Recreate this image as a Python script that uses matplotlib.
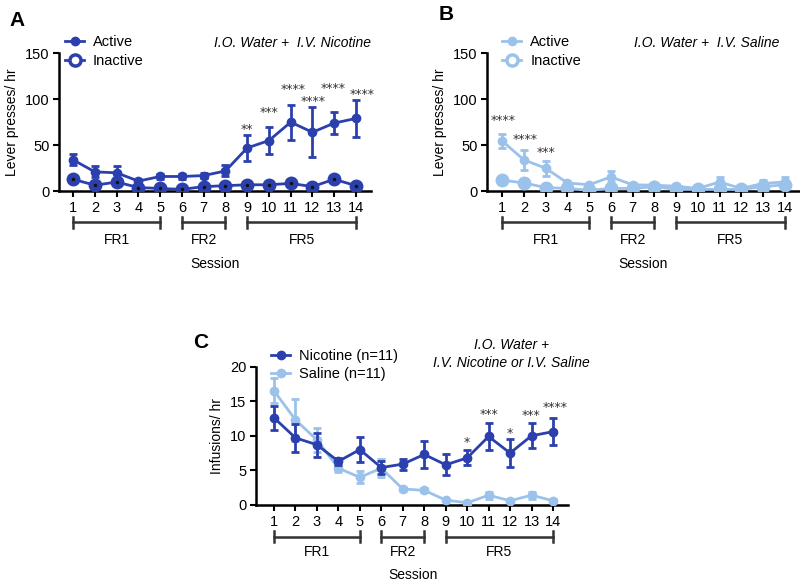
import numpy as np
import matplotlib
matplotlib.use("Agg")
from matplotlib import pyplot as plt
from matplotlib import transforms
from matplotlib.lines import Line2D

sessions = list(range(1, 15))

# panel A - I.O. water + I.V. nicotine
a_active = [34, 21, 20, 11, 16, 16, 17, 22, 47, 55, 75, 64, 74, 79]
a_active_err = [6, 6, 7, 2, 3, 3, 3, 6, 14, 15, 19, 27, 12, 20]
a_inactive = [13, 6.5, 10, 4, 3, 2, 5, 6, 7, 7, 8.5, 5, 13, 6]
a_inactive_err = [3, 2, 3, 1, 1, 1, 1, 1, 1, 1, 1, 1, 3, 1]
a_star_x = [9, 10, 11.1, 12.05, 12.95, 14.3]
a_star_txt = ["**", "***", "****", "****", "****", "****"]
a_star_y = [67, 85, 110, 97, 111, 105]

# panel B - I.O. water + I.V. saline
b_active = [54.5, 34, 25, 9, 7, 15.5, 7, 6.5, 5.5, 3, 10, 3, 8.5, 10]
b_active_err = [8, 11, 8, 2, 2, 6, 2, 2, 2, 1, 5, 1, 4, 5]
b_inactive = [12, 9, 4, 3, 1, 3, 3, 5, 2, 2, 2, 2, 5, 7]
b_inactive_err = [4, 1, 1, 1, 1, 1, 1, 1, 1, 1, 1, 1, 1, 4]
b_star_x = [1.05, 2.05, 3]
b_star_txt = ["****", "****", "***"]
b_star_y = [77, 56, 42]

# panel C - infusions
c_nic = [12.6, 9.7, 8.7, 6.3, 8.0, 5.4, 5.9, 7.3, 5.8, 6.8, 9.9, 7.5, 10.0, 10.6]
c_nic_err = [1.7, 2.0, 1.7, 0.5, 1.8, 1.0, 0.8, 1.9, 1.5, 1.1, 2.0, 2.0, 1.8, 2.0]
c_sal = [16.5, 12.3, 9.4, 5.3, 4.0, 5.3, 2.3, 2.1, 0.7, 0.3, 1.4, 0.6, 1.4, 0.6]
c_sal_err = [1.8, 3.0, 1.8, 0.6, 0.9, 1.3, 0.3, 0.3, 0.2, 0.2, 0.5, 0.2, 0.5, 0.2]
c_star_x = [10, 11, 12, 13, 14.1]
c_star_txt = ["*", "***", "*", "***", "****"]
c_star_y = [9.1, 13.1, 10.4, 12.9, 14.1]

phases = [("FR1", 1, 5), ("FR2", 6, 8), ("FR5", 9, 14)]

dark = "#2b40ad"
light = "#9bc2ea"

plt.rcParams["font.family"] = "Liberation Sans"
plt.rcParams["font.size"] = 9.5

fig = plt.figure(figsize=(8, 5.83), dpi=100)


def style_axes(ax, ylim, yticks, ylabel, xl, br_y, fr_y, ses_y):
    ax.set_xlim(xl, 14.7)
    ax.set_ylim(*ylim)
    ax.set_yticks(yticks)
    ax.set_xticks(sessions)
    for s in ["top", "right"]:
        ax.spines[s].set_visible(False)
    for s in ["left", "bottom"]:
        ax.spines[s].set_linewidth(1.8)
    ax.tick_params(width=1.5, length=4, labelsize=10.5, pad=3)
    ax.set_ylabel(ylabel, fontsize=10)
    trans = transforms.blended_transform_factory(ax.transData, ax.transAxes)
    for name, x0, x1 in phases:
        ax.plot([x0, x1], [br_y, br_y], color="#333333", lw=1.8,
                transform=trans, clip_on=False)
        for xx in (x0, x1):
            ax.plot([xx, xx], [br_y - 0.04, br_y + 0.04], color="#333333",
                    lw=1.8, transform=trans, clip_on=False)
        ax.text((x0 + x1) / 2, fr_y, name, transform=trans, ha="center",
                va="center", fontsize=10)
    ax.text(0.5 * (1 + 14), ses_y, "Session", transform=trans, ha="center",
            va="center", fontsize=10)


def stars(ax, xs, txts, ys):
    for x, t, y in zip(xs, txts, ys):
        ax.text(x, y, t, ha="center", va="center", fontsize=9,
                family="DejaVu Sans", color="#333333")


def legend(ax, handles, labels, x):
    ax.legend(handles, labels, loc="upper left", bbox_to_anchor=(x, 1.17),
              frameon=False, fontsize=10.5, handlelength=1.3,
              handletextpad=0.6, labelspacing=0.3, borderaxespad=0)


# ---- A ----
axA = fig.add_axes([0.074, 0.672, 0.39, 0.237])
axA.errorbar(sessions, a_active, yerr=a_active_err, color=dark, lw=2,
             marker="o", ms=6, capsize=3, elinewidth=2, capthick=2, zorder=3)
axA.errorbar(sessions, a_inactive, yerr=a_inactive_err, color=dark, lw=2,
             marker="o", ms=9, capsize=3, elinewidth=2, capthick=2, zorder=3)
axA.plot(sessions, a_inactive, ".", color="#111111", ms=3, zorder=4)
style_axes(axA, (0, 150), [0, 50, 100, 150], "Lever presses/ hr", 0.36,
           -0.225, -0.35, -0.53)
stars(axA, a_star_x, a_star_txt, a_star_y)
legend(axA, [Line2D([], [], color=dark, lw=2, marker="o", ms=6),
             Line2D([], [], color=dark, lw=2, marker="o", ms=8, mfc="white",
                    mew=2.5)],
       ["Active", "Inactive"], 0.0)
axA.text(1.0, 1.02, "I.O. Water +  I.V. Nicotine", style="italic",
         transform=axA.transAxes, ha="right", va="bottom", fontsize=10)
fig.text(0.012, 0.965, "A", fontsize=15, fontweight="bold", va="center")

# ---- B ----
axB = fig.add_axes([0.609, 0.672, 0.391, 0.237])
axB.errorbar(sessions, b_active, yerr=b_active_err, color=light, lw=2,
             marker="o", ms=6, capsize=3, elinewidth=2, capthick=2, zorder=3)
axB.errorbar(sessions, b_inactive, yerr=b_inactive_err, color=light, lw=2,
             marker="o", ms=9, capsize=3, elinewidth=2, capthick=2, zorder=3)
style_axes(axB, (0, 150), [0, 50, 100, 150], "Lever presses/ hr", 0.31,
           -0.225, -0.35, -0.53)
stars(axB, b_star_x, b_star_txt, b_star_y)
legend(axB, [Line2D([], [], color=light, lw=2, marker="o", ms=6),
             Line2D([], [], color=light, lw=2, marker="o", ms=8, mfc="white",
                    mew=2.5)],
       ["Active", "Inactive"], 0.03)
axB.text(0.935, 1.02, "I.O. Water +  I.V. Saline", style="italic",
         transform=axB.transAxes, ha="right", va="bottom", fontsize=10)
fig.text(0.548, 0.975, "B", fontsize=15, fontweight="bold", va="center")

# ---- C ----
axC = fig.add_axes([0.32, 0.134, 0.39, 0.237])
axC.errorbar(sessions, c_nic, yerr=c_nic_err, color=dark, lw=2,
             marker="o", ms=6, capsize=3, elinewidth=2, capthick=2, zorder=4)
axC.errorbar(sessions, c_sal, yerr=c_sal_err, color=light, lw=2,
             marker="o", ms=6, capsize=3, elinewidth=2, capthick=2, zorder=3)
style_axes(axC, (0, 20), [0, 5, 10, 15, 20], "Infusions/ hr", 0.16,
           -0.23, -0.34, -0.51)
stars(axC, c_star_x, c_star_txt, c_star_y)
legend(axC, [Line2D([], [], color=dark, lw=2, marker="o", ms=6),
             Line2D([], [], color=light, lw=2, marker="o", ms=6)],
       ["Nicotine (n=11)", "Saline (n=11)"], 0.03)
axC.text(0.82, 1.09, "I.O. Water +\nI.V. Nicotine or I.V. Saline",
         style="italic", transform=axC.transAxes, ha="center", va="center",
         fontsize=10, linespacing=1.35)
fig.text(0.241, 0.413, "C", fontsize=15, fontweight="bold", va="center")

fig.savefig("out.png", dpi=100)
